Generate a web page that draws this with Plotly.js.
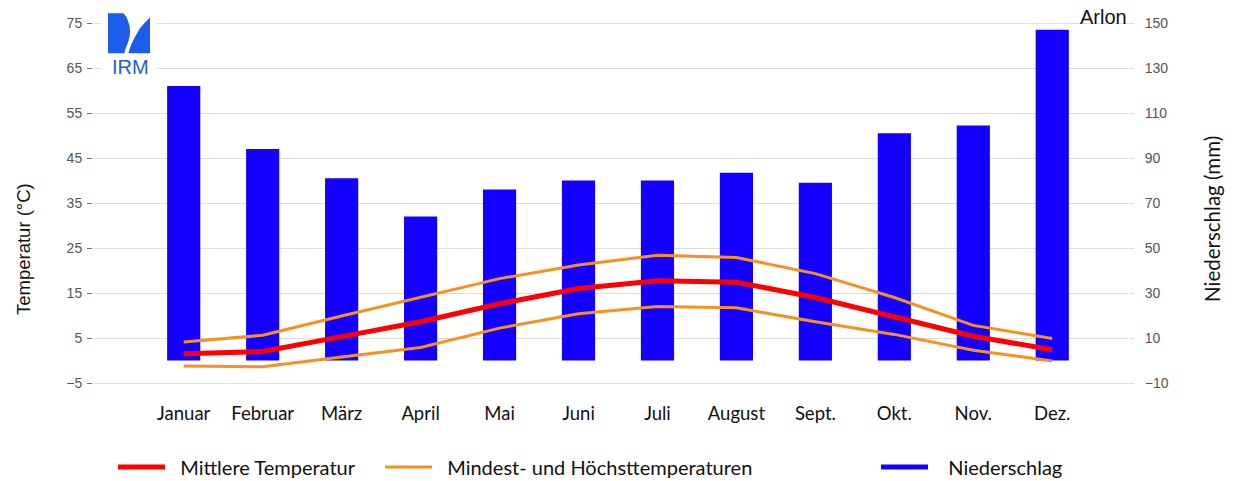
<!DOCTYPE html>
<html><head><meta charset="utf-8">
<script src="https://cdn.plot.ly/plotly-3.0.1.min.js"></script>
<style>html,body{margin:0;padding:0;background:#fff}#chart{width:1234px;height:481px}</style>
</head><body><div id="chart"></div>
<script>
const months = ["Januar","Februar","März","April","Mai","Juni","Juli","August","Sept.","Okt.","Nov.","Dez."];
const precipitation = [122, 94, 81, 64, 76, 80, 80, 83.5, 79, 101, 104.5, 147];
const tempMean = [1.5, 2.0, 5.3, 8.6, 12.6, 16.0, 17.7, 17.4, 14.0, 9.8, 5.4, 2.4];
const tempMax = [4.1, 5.6, 9.9, 14.1, 18.2, 21.2, 23.4, 22.9, 19.3, 14.0, 7.8, 4.9];
const tempMin = [-1.2, -1.4, 0.8, 2.9, 7.2, 10.4, 12.0, 11.7, 8.6, 5.8, 2.3, -0.1];
const tempTicks = [-5, 5, 15, 25, 35, 45, 55, 65, 75];
const precipTicks = [-10, 10, 30, 50, 70, 90, 110, 130, 150];

const W = 1234, H = 481;
const M = {l: 93, r: 105, t: 14, b: 89};
const PW = W - M.l - M.r, PH = H - M.t - M.b;
const px = x => (x - M.l) / PW;
const py = y => (H - M.b - y) / PH;
function path(pts) {
  return 'M' + pts.map(p => px(p[0]).toFixed(5) + ',' + py(p[1]).toFixed(5)).join(' L') + ' Z';
}
const LOGO = '#1D5CEB';
const CAL = 'Lato, "Open Sans", sans-serif';
const ARIAL = '"Liberation Sans", Arial, sans-serif';
const NB = '\u00A0';

const traces = [
  {type: 'bar', x: months, y: precipitation, yaxis: 'y', marker: {color: '#1400FF'},
   width: 0.42, name: 'Niederschlag', showlegend: false, hoverinfo: 'skip'},
  {type: 'scatter', mode: 'lines', x: months, y: tempMin, yaxis: 'y2',
   line: {color: '#F7901E', width: 3}, name: 'Mindesttemperatur', showlegend: false},
  {type: 'scatter', mode: 'lines', x: months, y: tempMax, yaxis: 'y2',
   line: {color: '#F7901E', width: 3}, name: NB + NB + 'Mindest- und Höchsttemperaturen', legend: 'legend2'},
  {type: 'scatter', mode: 'lines', x: months, y: tempMean, yaxis: 'y2',
   line: {color: '#FF0000', width: 5}, name: NB + NB + 'Mittlere Temperatur', legend: 'legend'},
  {type: 'scatter', mode: 'lines', x: [null], y: [null], yaxis: 'y2',
   line: {color: '#1400FF', width: 5}, name: NB + NB + NB + 'Niederschlag', legend: 'legend3'}
];

const legBase = {orientation: 'h', xref: 'container', yref: 'container', yanchor: 'middle',
  y: (H - 467) / H, xanchor: 'left', bgcolor: 'rgba(0,0,0,0)', itemwidth: 47,
  font: {family: CAL, size: 20, color: '#111'}};

const layout = {
  width: W, height: H, margin: M, paper_bgcolor: '#fff', plot_bgcolor: '#fff',
  showlegend: true, bargap: 0.58,
  legend: Object.assign({}, legBase, {x: 113 / W}),
  legend2: Object.assign({}, legBase, {x: 380 / W}),
  legend3: Object.assign({}, legBase, {x: 876 / W}),
  xaxis: {type: 'category', range: [-1.149, 11.972], showgrid: false, zeroline: false,
    showline: false, ticks: '', tickfont: {family: CAL, size: 18.5, color: '#111'},
    ticklabelstandoff: 8},
  yaxis: {side: 'right', range: [-14, 154], tickvals: precipTicks, ticktext: precipTicks.map(v => v < 0 ? '\u2212' + (-v) : String(v)),
    showgrid: true, gridcolor: '#DEDEDE', gridwidth: 1, zeroline: false, showline: false,
    ticks: 'outside', ticklen: 4, tickcolor: '#DEDEDE', ticklabelstandoff: 8,
    tickfont: {family: ARIAL, size: 14, color: '#555'}},
  yaxis2: {side: 'left', overlaying: 'y', range: [-7, 77], tickvals: tempTicks,
    ticktext: tempTicks.map(v => v < 0 ? '\u2212' + (-v) : String(v)),
    showgrid: false, zeroline: false, showline: false, ticks: 'outside', ticklen: 5,
    tickcolor: '#777', ticklabelstandoff: 2, tickfont: {family: ARIAL, size: 14, color: '#555'}},
  shapes: [
    {type: 'rect', xref: 'paper', yref: 'paper', x0: px(101), x1: px(157), y0: py(80), y1: py(9),
     fillcolor: '#fff', line: {width: 0}, layer: 'above'},
    {type: 'path', xref: 'paper', yref: 'paper', fillcolor: LOGO, line: {width: 0}, layer: 'above',
     path: path([[108,13.3],[123.3,13.3],[126.5,17],[128.3,21.7],[129.6,26],[130,31.7],[129.6,36.5],[128.3,41.7],[125.7,48.3],[124.3,53.3],[108,53.3]])},
    {type: 'path', xref: 'paper', yref: 'paper', fillcolor: LOGO, line: {width: 0}, layer: 'above',
     path: path([[150,17.5],[150,53.3],[128.3,53.3],[131,45],[135,36.7],[140,28.3],[145,22.5],[149,18.5]])}
  ],
  annotations: [
    {text: 'IRM', xref: 'paper', yref: 'paper', x: px(130), y: py(67), xanchor: 'center', yanchor: 'middle',
     showarrow: false, font: {family: ARIAL, size: 20, color: LOGO}},
    {text: 'Arlon', xref: 'paper', yref: 'paper', x: px(1129), y: py(17), xanchor: 'right', yanchor: 'middle',
     showarrow: false, font: {family: ARIAL, size: 20, color: '#111'}},
    {text: 'Temperatur (°C)', xref: 'paper', yref: 'paper', x: px(24), y: py(249), xanchor: 'center', yanchor: 'middle',
     textangle: -90, showarrow: false, font: {family: ARIAL, size: 18.5, color: '#111'}},
    {text: 'Niederschlag (mm)', xref: 'paper', yref: 'paper', x: px(1212), y: py(219), xanchor: 'center', yanchor: 'middle',
     textangle: -90, showarrow: false, font: {family: CAL, size: 20.5, color: '#111'}}
  ]
};

Plotly.newPlot('chart', traces, layout, {displayModeBar: false, staticPlot: true});
</script>
</body></html>
